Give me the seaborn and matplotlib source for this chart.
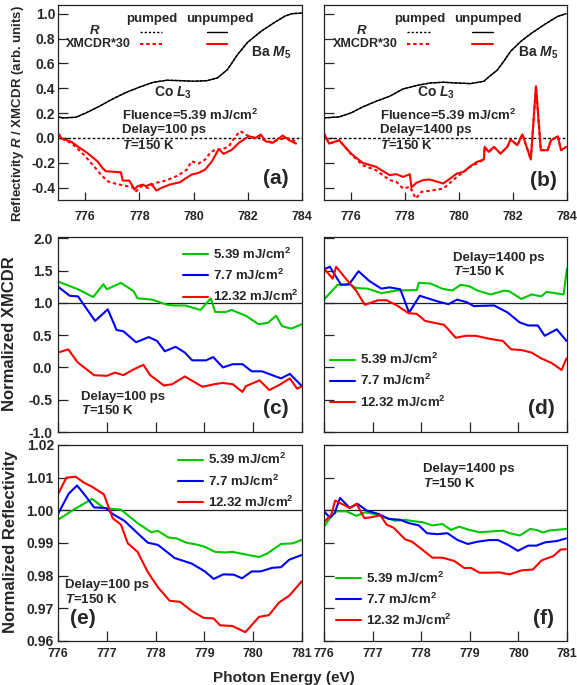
import numpy as np
import pandas as pd
import matplotlib
matplotlib.use("Agg")
import matplotlib.pyplot as plt
import seaborn as sns
from matplotlib.lines import Line2D

# ---------------- data ----------------
# panel (a): reflectivity R (pumped ~ unpumped), XMCDR*30
a_R_E = [775.00, 775.16, 775.66, 776.03, 776.53, 777.02, 777.52, 778.02, 778.52, 779.01, 779.51, 780.01,
         780.50, 780.88, 781.25, 781.62, 781.99, 782.49, 782.99, 783.36, 783.61, 784.00]
a_R = [0.169, 0.161, 0.166, 0.201, 0.255, 0.314, 0.367, 0.410, 0.448, 0.464, 0.461, 0.456,
       0.461, 0.483, 0.550, 0.670, 0.769, 0.858, 0.930, 0.979, 1.000, 1.005]
a_X_un_E = [775.00, 775.15, 775.34, 775.52, 775.71, 776.08, 776.45, 776.64, 776.76, 777.32, 777.39, 777.63,
            777.82, 777.94, 778.13, 778.25, 778.44, 778.63, 778.81, 779.12, 779.50, 779.68, 779.93, 780.18,
            780.43, 780.68, 780.93, 781.11, 781.42, 781.67, 782.04, 782.29, 782.48, 782.66, 782.91, 783.29,
            783.53, 783.78]
a_X_un = [0.035, -0.008, -0.019, -0.035, -0.067, -0.121, -0.188, -0.242, -0.268, -0.277, -0.344, -0.344,
          -0.416, -0.389, -0.376, -0.389, -0.370, -0.424, -0.403, -0.376, -0.357, -0.330, -0.295, -0.282,
          -0.255, -0.188, -0.089, -0.129, -0.094, -0.040, 0.013, 0.000, 0.027, -0.027, -0.040, 0.019,
          -0.019, -0.046]
a_X_pu_E = [775.00, 775.21, 775.52, 775.89, 776.20, 776.58, 776.83, 777.14, 777.45, 777.82, 777.88, 778.07,
            778.32, 778.57, 778.81, 779.06, 779.43, 779.75, 779.93, 780.18, 780.43, 780.61, 780.80, 781.05,
            781.30, 781.55, 781.73, 781.92, 782.17, 782.42, 782.60, 782.91, 783.16, 783.41, 783.66, 783.78]
a_X_pu = [0.035, -0.013, -0.046, -0.121, -0.196, -0.295, -0.349, -0.370, -0.384, -0.403, -0.430, -0.389,
          -0.403, -0.362, -0.354, -0.336, -0.303, -0.255, -0.188, -0.207, -0.174, -0.121, -0.094, -0.094,
          -0.067, 0.013, 0.054, 0.027, 0.000, 0.013, -0.019, -0.035, -0.013, 0.000, -0.013, -0.040]

# panel (b)
b_R_E = [775.00, 775.56, 776.00, 776.43, 776.93, 777.43, 777.93, 778.42, 778.92, 779.42, 779.92, 780.42,
         780.92, 781.16, 781.41, 781.66, 781.91, 782.29, 782.66, 783.16, 783.66, 783.97]
b_R = [0.161, 0.169, 0.201, 0.249, 0.295, 0.335, 0.394, 0.421, 0.442, 0.448, 0.442, 0.437,
       0.456, 0.501, 0.544, 0.617, 0.697, 0.777, 0.839, 0.912, 0.979, 1.000]
b_X_un_E = [775.00, 775.19, 775.56, 776.00, 776.43, 776.93, 777.43, 777.68, 777.93, 778.18, 778.24, 778.42,
            778.67, 778.92, 779.42, 779.92, 780.17, 780.42, 780.67, 780.92, 780.95, 781.10, 781.29, 781.54,
            781.79, 781.91, 782.16, 782.35, 782.66, 782.85, 783.03, 783.28, 783.41, 783.66, 783.78, 783.97]
b_X_un = [0.035, -0.046, -0.019, -0.126, -0.201, -0.233, -0.300, -0.292, -0.314, -0.292, -0.399, -0.362,
          -0.340, -0.335, -0.367, -0.287, -0.273, -0.228, -0.193, -0.174, -0.072, -0.113, -0.072, -0.126,
          -0.072, -0.013, -0.059, 0.029, -0.174, 0.416, -0.099, -0.099, -0.019, 0.013, -0.099, -0.072]
b_X_pu_E = [775.00, 775.19, 775.56, 776.00, 776.43, 776.93, 777.43, 777.68, 777.93, 778.18, 778.40, 778.61,
            778.92, 779.42, 779.92, 780.42, 780.92, 780.95, 781.10, 781.29, 781.54, 781.79, 781.91, 782.16,
            782.35, 782.66, 782.85, 783.03, 783.28, 783.41, 783.66, 783.78, 783.97]
b_X_pu = [0.035, -0.046, -0.019, -0.131, -0.220, -0.260, -0.340, -0.354, -0.408, -0.394, -0.488, -0.434,
          -0.426, -0.408, -0.314, -0.233, -0.174, -0.072, -0.113, -0.072, -0.126, -0.072, -0.013, -0.059,
          0.029, -0.174, 0.416, -0.099, -0.099, -0.019, 0.013, -0.099, -0.072]

fluence_labels = ["5.39 mJ/cm$^2$", "7.7 mJ/cm$^2$", "12.32 mJ/cm$^2$"]
fluence_colors = ["#00C800", "#0000FF", "#FF0000"]

# panel (c): normalized XMCDR, 100 ps
c_g_E = [776.00, 776.41, 776.72, 776.93, 777.00, 777.29, 777.55, 777.63, 777.93, 778.24, 778.37, 778.60,
         778.92, 779.13, 779.22, 779.44, 779.56, 779.85, 780.11, 780.30, 780.47, 780.59, 780.78, 781.00]
c_g = [1.33, 1.21, 1.09, 1.29, 1.21, 1.31, 1.18, 1.07, 1.05, 0.97, 0.96, 0.96,
       0.89, 1.07, 0.86, 0.86, 0.89, 0.80, 0.67, 0.69, 0.80, 0.64, 0.60, 0.67]
c_b_E = [776.00, 776.24, 776.41, 776.76, 777.02, 777.20, 777.34, 777.60, 777.86, 778.03, 778.19, 778.41,
         778.60, 778.75, 779.03, 779.18, 779.38, 779.58, 779.78, 779.97, 780.18, 780.57, 780.75, 781.00]
c_b = [1.25, 1.11, 1.10, 0.72, 0.90, 0.58, 0.56, 0.39, 0.47, 0.41, 0.25, 0.32,
       0.23, 0.11, 0.11, 0.16, 0.00, 0.05, 0.05, -0.06, -0.06, -0.17, -0.10, -0.29]
c_r_E = [776.00, 776.21, 776.40, 776.74, 777.00, 777.17, 777.34, 777.55, 777.75, 777.89, 778.17, 778.34,
         778.60, 778.96, 779.20, 779.37, 779.58, 779.78, 779.85, 780.13, 780.33, 780.54, 780.75, 780.90, 781.00]
c_r = [0.23, 0.28, 0.08, -0.12, -0.13, -0.08, -0.12, -0.03, 0.04, -0.12, -0.28, -0.26,
       -0.14, -0.30, -0.26, -0.24, -0.26, -0.38, -0.29, -0.20, -0.35, -0.27, -0.17, -0.33, -0.29]

# panel (d): normalized XMCDR, 1400 ps
d_g_E = [776.01, 776.28, 776.55, 776.66, 776.90, 777.18, 777.49, 777.91, 777.95, 778.19, 778.43, 778.64,
         778.81, 778.98, 779.16, 779.43, 779.71, 779.81, 780.06, 780.27, 780.47, 780.58, 780.93, 781.00]
d_g = [1.06, 1.28, 1.28, 1.23, 1.22, 1.15, 1.19, 1.20, 1.31, 1.30, 1.22, 1.19,
       1.28, 1.26, 1.19, 1.13, 1.19, 1.18, 1.06, 1.13, 1.10, 1.17, 1.13, 1.53]
d_b_E = [776.00, 776.12, 776.35, 776.52, 776.71, 776.93, 777.18, 777.35, 777.57, 777.75, 777.97, 778.18,
         778.35, 778.56, 778.74, 778.94, 779.08, 779.50, 779.78, 780.02, 780.20, 780.40, 780.54, 780.79, 780.99]
d_b = [1.52, 1.56, 1.28, 1.29, 1.49, 1.34, 1.22, 1.24, 1.21, 0.85, 1.11, 1.06,
       1.02, 0.98, 1.05, 1.01, 0.95, 0.96, 0.85, 0.70, 0.65, 0.65, 0.49, 0.59, 0.41]
d_r_E = [776.01, 776.18, 776.25, 776.53, 776.66, 776.84, 777.11, 777.29, 777.50, 777.74, 777.91, 778.08,
         778.47, 778.71, 778.92, 779.12, 779.43, 779.68, 779.85, 780.06, 780.27, 780.47, 780.68, 780.89, 780.99]
d_r = [1.52, 1.375, 1.56, 1.30, 1.19, 0.97, 1.04, 1.04, 0.96, 0.84, 0.83, 0.72,
       0.66, 0.46, 0.49, 0.49, 0.44, 0.41, 0.28, 0.27, 0.23, 0.14, 0.07, -0.04, 0.14]

# panel (e): normalized reflectivity, 100 ps
e_g_E = [776.00, 776.32, 776.70, 776.94, 777.29, 777.63, 777.91, 778.05, 778.26, 778.43, 778.63, 778.88,
         779.01, 779.22, 779.43, 779.57, 779.74, 780.12, 780.29, 780.57, 780.81, 780.99]
e_g = [0.9971, 1.0002, 1.0035, 1.0007, 1.0002, 0.9961, 0.9933, 0.9937, 0.9917, 0.9914, 0.9901, 0.9894,
       0.9888, 0.9873, 0.9871, 0.9873, 0.9868, 0.9857, 0.9868, 0.9897, 0.9899, 0.9909]
e_b_E = [776.00, 776.22, 776.39, 776.57, 776.74, 776.98, 777.12, 777.36, 777.63, 777.84, 778.05, 778.39,
         778.74, 779.01, 779.19, 779.39, 779.60, 779.77, 779.97, 780.15, 780.39, 780.57, 780.74, 780.99]
e_b = [0.9989, 1.0051, 1.0076, 1.0043, 1.0009, 1.0007, 0.9989, 0.9968, 0.9930, 0.9901, 0.9894, 0.9854,
       0.9837, 0.9813, 0.9790, 0.9804, 0.9803, 0.9792, 0.9813, 0.9813, 0.9824, 0.9826, 0.9849, 0.9863]
e_r_E = [776.00, 776.17, 776.36, 776.53, 776.70, 776.94, 777.12, 777.29, 777.43, 777.63, 777.84, 778.05,
         778.29, 778.50, 778.74, 778.98, 779.19, 779.32, 779.57, 779.84, 780.12, 780.32, 780.53, 780.74, 780.99]
e_r = [1.0049, 1.0100, 1.0103, 1.0085, 1.0072, 1.0049, 0.9976, 0.9956, 0.9899, 0.9873, 0.9811, 0.9764,
       0.9723, 0.9720, 0.9692, 0.9671, 0.9669, 0.9648, 0.9646, 0.9627, 0.9674, 0.9679, 0.9718, 0.9739, 0.9782]

# panel (f): normalized reflectivity, 1400 ps
f_g_E = [776.00, 776.12, 776.26, 776.46, 776.67, 776.84, 777.09, 777.33, 777.47, 777.67, 777.88, 778.02,
         778.23, 778.44, 778.61, 778.78, 778.99, 779.20, 779.40, 779.68, 779.82, 780.03, 780.24, 780.37,
         780.51, 780.62, 780.98]
f_g = [0.9950, 0.9976, 0.9997, 0.9997, 0.9983, 0.9994, 0.9987, 0.9974, 0.9968, 0.9971, 0.9966, 0.9964,
       0.9954, 0.9958, 0.9940, 0.9950, 0.9940, 0.9933, 0.9935, 0.9938, 0.9930, 0.9923, 0.9943, 0.9940,
       0.9932, 0.9938, 0.9943]
f_b_E = [776.00, 776.12, 776.22, 776.33, 776.53, 776.69, 776.88, 777.12, 777.33, 777.57, 777.74, 777.95,
         778.12, 778.33, 778.54, 778.75, 778.96, 779.16, 779.40, 779.58, 779.79, 779.99, 780.20, 780.37,
         780.55, 780.79, 780.98]
f_b = [0.9997, 0.9978, 0.9992, 1.0038, 1.0007, 1.0020, 0.9999, 0.9989, 0.9974, 0.9971, 0.9961, 0.9954,
       0.9930, 0.9927, 0.9930, 0.9909, 0.9897, 0.9904, 0.9909, 0.9909, 0.9894, 0.9876, 0.9892, 0.9892,
       0.9902, 0.9906, 0.9914]
f_r_E = [776.00, 776.15, 776.23, 776.39, 776.53, 776.67, 776.83, 776.98, 777.16, 777.29, 777.43, 777.67,
         777.81, 778.02, 778.23, 778.44, 778.68, 778.89, 779.02, 779.20, 779.40, 779.61, 779.82, 780.06,
         780.30, 780.48, 780.72, 780.87, 780.98]
f_r = [0.9964, 0.9987, 1.0030, 1.0018, 1.0007, 1.0020, 0.9976, 0.9979, 0.9985, 0.9956, 0.9947, 0.9911,
       0.9904, 0.9880, 0.9855, 0.9855, 0.9845, 0.9823, 0.9824, 0.9809, 0.9809, 0.9810, 0.9804, 0.9816,
       0.9819, 0.9847, 0.9860, 0.9880, 0.9881]

xticks_top = [776, 778, 780, 782, 784]
yticks_top = [-0.4, -0.2, 0.0, 0.2, 0.4, 0.6, 0.8, 1.0]
xticks_bot = [776, 777, 778, 779, 780, 781]
yticks_mid = [-1.0, -0.5, 0.0, 0.5, 1.0, 1.5, 2.0]
yticks_bot = [0.96, 0.97, 0.98, 0.99, 1.00, 1.01, 1.02]

# ---------------- style ----------------
sns.set_theme(style="ticks")
plt.rcParams.update({
    "font.family": ["Liberation Sans", "DejaVu Sans"],
    "font.weight": "bold",
    "axes.labelweight": "bold",
    "mathtext.fontset": "custom",
    "mathtext.rm": "Liberation Sans:bold",
    "mathtext.it": "Liberation Sans:italic:bold",
    "mathtext.bf": "Liberation Sans:bold",
    "axes.unicode_minus": False,
    "axes.edgecolor": "#222222",
    "axes.linewidth": 0.9,
})

W, H = 577, 685
fig = plt.figure(figsize=(W / 100, H / 100), dpi=100)


def add_ax(x0, y0, x1, y1):
    return fig.add_axes([x0 / W, 1 - y1 / H, (x1 - x0) / W, (y1 - y0) / H])


def ftext(px, py, s, size=9.5, ha="left", va="baseline", **kw):
    fig.text(px / W, 1 - py / H, s, fontsize=size, ha=ha, va=va, fontweight="bold", **kw)


def fline(x0, x1, py, **kw):
    fig.add_artist(Line2D([x0 / W, x1 / W], [1 - py / H, 1 - py / H], transform=fig.transFigure, **kw))


axa = add_ax(58, 5, 302, 200)
axb = add_ax(324, 5, 567, 200)
axc = add_ax(58, 237, 302, 432)
axd = add_ax(324, 237, 567, 432)
axe = add_ax(58, 445, 302, 641)
axf = add_ax(324, 445, 567, 641)

XT = 9  # x tick label size

dot = (0, (1.6, 1.4))
for ax, RE, R, XuE, Xu, XpE, Xp in [(axa, a_R_E, a_R, a_X_un_E, a_X_un, a_X_pu_E, a_X_pu),
                                    (axb, b_R_E, b_R, b_X_un_E, b_X_un, b_X_pu_E, b_X_pu)]:
    ax.axhline(0, color="black", lw=1.0, ls=(0, (2, 1.5)), zorder=1)
    sns.lineplot(x=RE, y=R, ax=ax, color="black", lw=1.0, estimator=None, sort=False)
    sns.lineplot(x=RE, y=R, ax=ax, color="black", lw=1.0, ls=dot, estimator=None, sort=False)
    sns.lineplot(x=XpE, y=Xp, ax=ax, color="#FF0000", lw=1.5, ls=dot, estimator=None, sort=False)
    sns.lineplot(x=XuE, y=Xu, ax=ax, color="#FF0000", lw=1.5, estimator=None, sort=False)
    ax.set_xlim(775, 784)
    ax.set_ylim(-0.5, 1.07)
    ax.set_xticks(xticks_top)
    ax.set_yticks(yticks_top)
    ax.tick_params(axis="x", direction="in", length=6, width=0.9, pad=8, labelsize=XT)
    ax.tick_params(axis="y", direction="in", length=7, width=0.9, pad=2, labelsize=10)

axa.set_yticklabels([f"{v:.1f}" for v in yticks_top])
axb.set_yticklabels([])

mid = [(axc, [(c_g_E, c_g), (c_b_E, c_b), (c_r_E, c_r)]),
       (axd, [(d_g_E, d_g), (d_b_E, d_b), (d_r_E, d_r)])]
bot = [(axe, [(e_g_E, e_g), (e_b_E, e_b), (e_r_E, e_r)]),
       (axf, [(f_g_E, f_g), (f_b_E, f_b), (f_r_E, f_r)])]

for ax, series in mid + bot:
    for (E, v), lab, col in zip(series, fluence_labels, fluence_colors):
        sns.lineplot(x=E, y=v, ax=ax, color=col, lw=1.5, label=lab, estimator=None, sort=False)
    ax.set_xlim(776, 781)
    ax.set_xticks(xticks_bot)
    ax.tick_params(axis="x", direction="in", length=7, width=0.9, labelsize=XT)
    ax.tick_params(axis="y", direction="in", length=7, width=0.9, labelsize=10)

for ax, _ in mid:
    ax.axhline(1.0, color="#222222", lw=0.9, zorder=1)
    ax.set_ylim(-1.0, 2.02)
    ax.set_yticks(yticks_mid)
    ax.set_xticklabels([])
for ax, _ in bot:
    ax.axhline(1.0, color="#222222", lw=0.9, zorder=1)
    ax.set_ylim(0.96, 1.02)
    ax.set_yticks(yticks_bot)
    ax.tick_params(axis="x", pad=5)

axc.set_yticklabels([f"{v:.1f}" for v in yticks_mid])
axc.tick_params(axis="y", pad=4)
axe.set_yticklabels([f"{v:.2f}" for v in yticks_bot])
axe.tick_params(axis="y", pad=3)
axd.set_yticklabels([])
axf.set_yticklabels([])

leg_kw = dict(frameon=False, fontsize=9.5, handlelength=1.9, handletextpad=0.4,
              borderpad=0, borderaxespad=0, labelspacing=0.45, loc="upper left")
axc.legend(bbox_to_anchor=(0.512, 0.95), **leg_kw)
axd.legend(bbox_to_anchor=(0.025, 0.41), **leg_kw)
axe.legend(bbox_to_anchor=(0.49, 0.963), **leg_kw)
axf.legend(bbox_to_anchor=(0.05, 0.36), **leg_kw)

for ax in [axa, axb, axc, axd, axe, axf]:
    ax.set_xlabel("")
    ax.set_ylabel("")
    for lab in ax.get_xticklabels() + ax.get_yticklabels():
        lab.set_fontweight("bold")

# ---------------- annotations ----------------
# panel (a)
ftext(152, 22, "pumped", ha="center")
ftext(220, 22, "unpumped", ha="center")
ftext(95, 34, "$R$", ha="center")
ftext(98, 47, "XMCDR*30", size=9, ha="center")
fline(140, 162, 32, color="black", lw=1.0, ls=dot)
fline(207, 227, 32, color="black", lw=1.0)
fline(140, 162, 44, color="#FF0000", lw=1.5, ls=dot)
fline(207, 227, 44, color="#FF0000", lw=1.5)
ftext(251, 57, "Ba $M_5$", size=10)
ftext(154, 97, "Co $L_3$", size=10)
ftext(122, 120, "Fluence=5.39 mJ/cm$^2$")
ftext(122, 133, "Delay=100 ps")
ftext(122, 149, "$T$=150 K")
ftext(276, 178, "(a)", size=15, ha="center", va="center")

# panel (b)
ftext(420, 22, "pumped", ha="center")
ftext(488, 22, "unpumped", ha="center")
ftext(362, 34, "$R$", ha="center")
ftext(365, 47, "XMCDR*30", size=9, ha="center")
fline(407, 430, 32, color="black", lw=1.0, ls=dot)
fline(472, 493, 32, color="black", lw=1.0)
fline(407, 430, 44, color="#FF0000", lw=1.5, ls=dot)
fline(472, 493, 44, color="#FF0000", lw=1.5)
ftext(518, 57, "Ba $M_5$", size=10)
ftext(417, 97, "Co $L_3$", size=10)
ftext(380, 120, "Fluence=5.39 mJ/cm$^2$")
ftext(380, 133, "Delay=1400 ps")
ftext(380, 149, "$T$=150 K")
ftext(543, 180, "(b)", size=15, ha="center", va="center")

# panel (c)-(f)
ftext(81, 400, "Delay=100 ps")
ftext(81, 414, "$T$=150 K")
ftext(276, 409, "(c)", size=15, ha="center", va="center")
ftext(453, 261, "Delay=1400 ps")
ftext(453, 275, "$T$=150 K")
ftext(541, 409, "(d)", size=15, ha="center", va="center")
ftext(65, 588, "Delay=100 ps")
ftext(65, 603, "$T$=150 K")
ftext(83, 618, "(e)", size=15, ha="center", va="center")
ftext(423, 472, "Delay=1400 ps")
ftext(423, 487, "$T$=150 K")
ftext(543, 618, "(f)", size=15, ha="center", va="center")

# axis labels
ftext(18, 113, "Reflectivity $R$ / XMCDR (arb. units)", size=9.5, ha="center", va="center", rotation=90)
ftext(10, 334, "Normalized XMCDR", size=12, ha="center", va="center", rotation=90)
ftext(11, 542, "Normalized Reflectivity", size=12, ha="center", va="center", rotation=90)
ftext(284, 682, "Photon Energy (eV)", size=11, ha="center")

fig.savefig("out.png", dpi=100)
